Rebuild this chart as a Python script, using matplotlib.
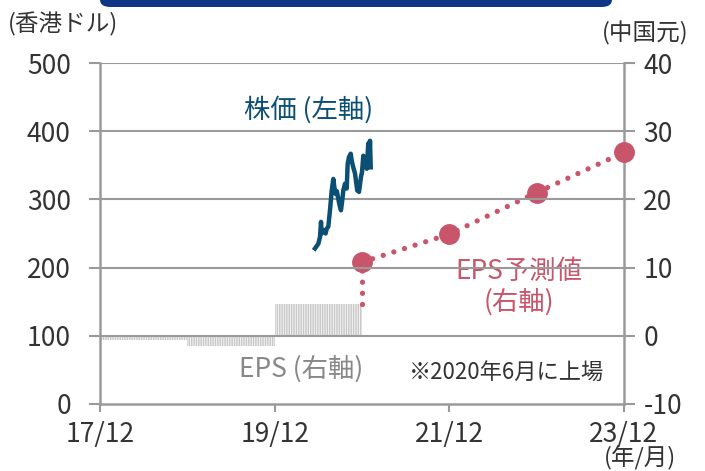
import matplotlib.pyplot as plt
from matplotlib.patches import FancyBboxPatch

plt.rcParams['font.family'] = ['Noto Sans CJK JP', 'DejaVu Sans']
plt.rcParams['hatch.linewidth'] = 1.0
plt.rcParams['axes.unicode_minus'] = False

# months elapsed since 2017/12
x_ticks = [0, 24, 48, 72]
x_labels = ['17/12', '19/12', '21/12', '23/12']

# share price (HKD, left axis)
price_month = [29.54, 29.8, 30.0, 30.23, 30.37, 30.45, 30.55, 30.82, 31.0, 31.15,
               31.37, 31.6, 31.84, 32.06, 32.2, 32.38, 32.55, 32.74, 32.9, 33.11,
               33.3, 33.43, 33.66, 33.9, 34.03, 34.21, 34.45, 34.6, 34.8, 35.04,
               35.2, 35.35, 35.59, 35.86, 36.0, 36.18, 36.41, 36.65, 36.86, 37.0,
               37.1, 37.2]
price = [228, 232, 235, 245, 267, 250, 255, 255, 250, 257,
         260, 284, 313, 330, 318, 308, 312, 301, 292, 284,
         300, 313, 323, 316, 352, 362, 367, 356, 347, 338,
         325, 313, 311, 333, 340, 364, 352, 345, 382, 360,
         386, 347]

# actual EPS (CNY, right axis), fiscal years ending Dec 2018-2020
eps_center = [6, 18, 30]
eps_actual = [-0.6, -1.5, 4.7]

# EPS forecast (CNY, right axis)
fc_month = [36, 48, 60, 72]
eps_fc = [10.8, 14.9, 21.0, 26.9]

blue = '#0b4f74'
pink = '#c9556a'
grey = '#9a9a9a'
txt = '#333333'

fig = plt.figure(figsize=(7.05, 4.71), dpi=100)
ax = fig.add_axes([100 / 705, 1 - 404 / 471, 524 / 705, 341 / 471])
ax2 = ax.twinx()
ax.set_zorder(ax2.get_zorder() + 1)
ax.patch.set_visible(False)

# banner cut off at the top
fig.patches.append(FancyBboxPatch((100 / 705, 1 - 7 / 471), 512 / 705, 20 / 471,
                                  boxstyle='round,pad=0,rounding_size=0.015',
                                  transform=fig.transFigure, fc='#0f3587', ec='none'))

ax.set_xlim(0, 72)
ax.set_ylim(0, 500)
ax2.set_ylim(-10, 40)

ax.set_yticks(range(0, 501, 100))
ax2.set_yticks(range(-10, 41, 10))
ax.set_xticks(x_ticks)
ax.set_xticklabels(x_labels)

for y in range(100, 501, 100):
    ax.axhline(y, color=grey, lw=1.5, zorder=1)

for a in (ax, ax2):
    for s in a.spines.values():
        s.set_visible(False)
ax.spines['left'].set_visible(True)
ax.spines['bottom'].set_visible(True)
ax2.spines['right'].set_visible(True)
for s in (ax.spines['left'], ax.spines['bottom'], ax2.spines['right']):
    s.set_color(grey)
    s.set_linewidth(1.8)

ax.tick_params(axis='y', length=8, width=1.5, color=grey, labelsize=19, labelcolor=txt, pad=13)
ax.tick_params(axis='x', length=6, width=1.5, color=grey, labelsize=19, labelcolor=txt, pad=6)
ax2.tick_params(axis='y', length=8, width=1.5, color=grey, labelsize=19, labelcolor=txt, pad=6)

# EPS bars
ax2.bar(eps_center, eps_actual, width=12, facecolor='#f4f4f4', edgecolor='#c8c8c8',
        hatch='|||||||', linewidth=0, zorder=2)

# forecast
ax2.plot([fc_month[0], fc_month[0]], [eps_actual[-1], eps_fc[0]], color=pink, lw=3.8,
         ls=(0, (0.01, 2.1)), dash_capstyle='round', zorder=3)
ax2.plot(fc_month, eps_fc, color=pink, lw=3.8, ls=(0, (0.01, 2.1)),
         dash_capstyle='round', zorder=3)
ax2.plot(fc_month, eps_fc, 'o', color=pink, ms=14, zorder=4, clip_on=False)

# price
ax.plot(price_month, price, color=blue, lw=3.2, zorder=5)

# labels
fig.text(8 / 705, 1 - 24 / 471, '(香港ドル)', fontsize=17, color=txt, va='center', ha='left')
fig.text(689 / 705, 1 - 33 / 471, '(中国元)', fontsize=17, color=txt, va='center', ha='right')
fig.text(676 / 705, 1 - 458 / 471, '(年/月)', fontsize=17, color=txt, va='center', ha='right')

ax.text(28.6, 431, '株価 (左軸)', color=blue, fontsize=19, ha='center', va='center')
ax2.text(57.5, 7.2, 'EPS予測値\n(右軸)', color=pink, fontsize=19, ha='center', va='center',
         linespacing=1.15)
ax2.text(27.7, -4.9, 'EPS (右軸)', color='#888888', fontsize=19, ha='center', va='center')
ax2.text(55.8, -5.3, '※2020年6月に上場', color=txt, fontsize=16, ha='center', va='center')

fig.savefig('out.png', dpi=100)
